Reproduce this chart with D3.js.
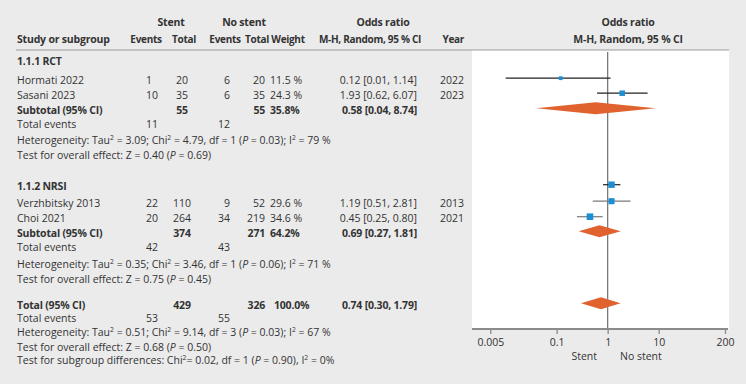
<!DOCTYPE html>
<html>
<head>
<meta charset="utf-8">
<script src="https://cdn.jsdelivr.net/npm/d3@7"></script>
<style>
  body { margin: 0; background: #ebebeb; }
  svg { display: block; font-family: "Open Sans", sans-serif; fill: #333; }
  .b { font-weight: bold; letter-spacing: -0.2px; }
  .h { font-size: 10px; letter-spacing: -0.3px; }
</style>
</head>
<body>
<div id="chart"></div>
<script>
'use strict'

// study rows
const studies = ['Hormati 2022', 'Sasani 2023', 'Verzhbitsky 2013', 'Choi 2021'];
const studyGroup = [0, 0, 1, 1];
const stentEvents = [1, 10, 22, 20];
const stentTotal = [20, 35, 110, 264];
const noStentEvents = [6, 6, 9, 34];
const noStentTotal = [20, 35, 52, 219];
const weights = [11.5, 24.3, 29.6, 34.6];
const oddsRatio = [0.12, 1.93, 1.19, 0.45];
const ciLow = [0.01, 0.62, 0.51, 0.25];
const ciHigh = [1.14, 6.07, 2.81, 0.80];
const years = [2022, 2023, 2013, 2021];

// subgroups
const subgroups = ['1.1.1 RCT', '1.1.2 NRSI'];
const subStentTotal = [55, 374];
const subNoStentTotal = [55, 271];
const subWeight = [35.8, 64.2];
const subOR = [0.58, 0.69];
const subLow = [0.04, 0.27];
const subHigh = [8.74, 1.81];
const subStentEvents = [11, 42];
const subNoStentEvents = [12, 43];
const subHet = [
  {tau: '3.09', chi: '4.79', df: 1, p: '0.03', i2: '79'},
  {tau: '0.35', chi: '3.46', df: 1, p: '0.06', i2: '71'}
];
const subZ = [{z: '0.40', p: '0.69'}, {z: '0.75', p: '0.45'}];

// stray square drawn on the NRSI header row in the original figure
const strayOR = [1.19];
const strayLow = [0.81];
const strayHigh = [1.78];
const strayWeight = [33];

// overall
const totalStent = 429, totalNoStent = 326, totalWeight = 100.0;
const totalOR = 0.74, totalLow = 0.30, totalHigh = 1.79;
const totalStentEvents = 53, totalNoStentEvents = 55;
const totalHet = {tau: '0.51', chi: '9.14', df: 3, p: '0.03', i2: '67'};
const totalZ = {z: '0.68', p: '0.50'};
const subDiff = {chi: '0.02', df: 1, p: '0.90', i2: '0'};

const axisTicks = [0.005, 0.1, 1, 10, 200];

// layout: vertical centre of each text line
const rowY = {
  head1: 22, head2: 39.5,
  group: [61, 186],
  study: [80, 95, 203, 218.5],
  sub: [110, 233], subEv: [124.5, 247], subHet: [140, 264.5], subZ: [155, 279],
  total: 305, totEv: 318.5, totHet: 332.5, totZ: 347, diff: 360.5
};
const col = {name: 17, se: 146, st: 182, ne: 230, nt: 265, w: 270, ci: 417, yr: 464};

const width = 746, height = 384;
const svg = d3.select('#chart').append('svg')
  .attr('width', width).attr('height', height);

svg.append('rect').attr('width', width).attr('height', height).attr('fill', '#ebebeb');

const panel = {left: 472, right: 729, top: 50, bottom: 329};
svg.append('rect')
  .attr('x', panel.left).attr('y', panel.top)
  .attr('width', panel.right - panel.left).attr('height', panel.bottom - panel.top)
  .attr('fill', '#fff');

// header separator
svg.append('line')
  .attr('x1', 16).attr('x2', panel.right).attr('y1', panel.top).attr('y2', panel.top)
  .attr('stroke', '#9a9a9a').attr('stroke-width', 1.2);

const fs = 10.5;
const t = svg.append('g').attr('font-size', fs);

function txt(x, y, s, anchor, bold) {
  return t.append('text')
    .attr('x', x).attr('y', y).attr('dy', '0.35em')
    .attr('text-anchor', anchor || 'start')
    .attr('class', bold ? 'b' : null)
    .text(s);
}
function head(x, s, anchor) {
  return txt(x, rowY.head2, s, anchor, true).attr('class', 'b h');
}

// rich line with superscripts and italic P
function rich(x, y, parts) {
  const el = t.append('text').attr('x', x).attr('y', y).attr('dy', '0.35em');
  parts.forEach(p => {
    const sp = el.append('tspan').text(p[0]);
    if (p[1] === 'sup') sp.attr('font-size', fs * 0.65).attr('dy', -4);
    if (p[1] === 'after') sp.attr('dy', 4);
    if (p[1] === 'i') sp.attr('font-style', 'italic');
  });
  return el;
}

function hetLine(y, h) {
  rich(col.name, y, [
    ['Heterogeneity: Tau'], ['2', 'sup'], [' = ' + h.tau + '; Chi', 'after'], ['2', 'sup'],
    [' = ' + h.chi + ', df = ' + h.df + ' (', 'after'], ['P', 'i'], [' = ' + h.p + '); I'],
    ['2', 'sup'], [' = ' + h.i2 + ' %', 'after']
  ]);
}
function zLine(y, z) {
  rich(col.name, y, [['Test for overall effect: Z = ' + z.z + ' ('], ['P', 'i'], [' = ' + z.p + ')']]);
}

// headers
txt(171, rowY.head1, 'Stent', 'middle', true);
txt(244, rowY.head1, 'No stent', 'middle', true);
txt(383, rowY.head1, 'Odds ratio', 'middle', true);
txt(628, rowY.head1, 'Odds ratio', 'middle', true);
txt(col.name, rowY.head2, 'Study or subgroup', 'start', true);
head(146, 'Events', 'middle');
head(184, 'Total', 'middle');
head(225, 'Events', 'middle');
head(257, 'Total', 'middle');
head(288, 'Weight', 'middle');
head(370, 'M-H, Random, 95 % CI', 'middle');
head(464, 'Year', 'end');
txt(628, rowY.head2, 'M-H, Random, 95 % CI', 'middle', true);

const f2 = d3.format('.2f');
const pct = w => d3.format('.1f')(w) + '%';
const pctS = w => d3.format('.1f')(w) + ' %';

subgroups.forEach((g, gi) => txt(col.name, rowY.group[gi], g, 'start', true));

studies.forEach((s, i) => {
  const y = rowY.study[i];
  txt(col.name, y, s);
  txt(col.se, y, stentEvents[i], 'start');
  txt(col.st, y, stentTotal[i], 'middle');
  txt(col.ne, y, noStentEvents[i], 'end');
  txt(col.nt, y, noStentTotal[i], 'end');
  txt(col.w, y, pctS(weights[i]));
  txt(col.ci, y, f2(oddsRatio[i]) + ' [' + f2(ciLow[i]) + ', ' + f2(ciHigh[i]) + ']', 'end');
  txt(col.yr, y, years[i], 'end');
});

subgroups.forEach((g, gi) => {
  txt(col.name, rowY.sub[gi], 'Subtotal (95% CI)', 'start', true);
  txt(col.st, rowY.sub[gi], subStentTotal[gi], 'middle', true);
  txt(col.nt, rowY.sub[gi], subNoStentTotal[gi], 'end', true);
  txt(col.w, rowY.sub[gi], pct(subWeight[gi]), 'start', true);
  txt(col.ci, rowY.sub[gi], f2(subOR[gi]) + ' [' + f2(subLow[gi]) + ', ' + f2(subHigh[gi]) + ']', 'end', true);
  txt(col.name, rowY.subEv[gi], 'Total events');
  txt(col.se, rowY.subEv[gi], subStentEvents[gi]);
  txt(col.ne, rowY.subEv[gi], subNoStentEvents[gi], 'end');
  hetLine(rowY.subHet[gi], subHet[gi]);
  zLine(rowY.subZ[gi], subZ[gi]);
});

txt(col.name, rowY.total, 'Total (95% CI)', 'start', true);
txt(col.st, rowY.total, totalStent, 'middle', true);
txt(col.nt, rowY.total, totalNoStent, 'end', true);
txt(274, rowY.total, pct(totalWeight), 'start', true);
txt(col.ci, rowY.total, f2(totalOR) + ' [' + f2(totalLow) + ', ' + f2(totalHigh) + ']', 'end', true);
txt(col.name, rowY.totEv, 'Total events');
txt(col.se, rowY.totEv, totalStentEvents);
txt(col.ne, rowY.totEv, totalNoStentEvents, 'end');
hetLine(rowY.totHet, totalHet);
zLine(rowY.totZ, totalZ);
rich(col.name, rowY.diff, [
  ['Test for subgroup differences: Chi'], ['2', 'sup'], ['= ' + subDiff.chi + ', df = ' + subDiff.df + ' (', 'after'],
  ['P', 'i'], [' = ' + subDiff.p + '), I'], ['2', 'sup'], [' = ' + subDiff.i2 + '%', 'after']
]);

// forest plot
const x = d3.scaleLog().domain([0.005, 200]).range([490.3, 725]);
const size = d3.scaleSqrt().domain([0, 35]).range([0, 6.6]);
const off = -1.8;
const plot = svg.append('g');

// reference line at OR = 1
plot.append('line')
  .attr('x1', x(1)).attr('x2', x(1)).attr('y1', panel.top + 2).attr('y2', panel.bottom)
  .attr('stroke', '#7a7a7a').attr('stroke-width', 1.3);

function diamond(or, lo, hi, y) {
  const h = 6;
  plot.append('path')
    .attr('d', `M${x(lo)},${y}L${x(or)},${y - h}L${x(hi)},${y}L${x(or)},${y + h}Z`)
    .attr('fill', '#e0622f');
}

function study(or, lo, hi, w, y, stroke) {
  plot.append('line')
    .attr('x1', x(lo)).attr('x2', x(hi)).attr('y1', y).attr('y2', y)
    .attr('stroke', stroke).attr('stroke-width', 1.2);
  const s = size(w);
  plot.append('rect')
    .attr('x', x(or) - s / 2).attr('y', y - s / 2).attr('width', s).attr('height', s)
    .attr('fill', '#1b8fd2');
}

studies.forEach((s, i) => {
  study(oddsRatio[i], ciLow[i], ciHigh[i], weights[i], rowY.study[i] + off,
    studyGroup[i] === 0 ? '#222' : '#7a7a7a');
});
strayOR.forEach((o, i) => study(o, strayLow[i], strayHigh[i], strayWeight[i], rowY.group[1] + off + 0.5, '#222'));
subgroups.forEach((g, gi) => diamond(subOR[gi], subLow[gi], subHigh[gi], rowY.sub[gi] + off));
diamond(totalOR, totalLow, totalHigh, rowY.total + off);

// axis
const axis = d3.axisBottom(x).tickValues(axisTicks).tickFormat(d => String(d)).tickSize(5).tickSizeOuter(0);
const ag = svg.append('g').attr('transform', `translate(0,${panel.bottom})`).call(axis);
ag.select('.domain').attr('stroke', '#8a8a8a').attr('stroke-width', 2)
  .attr('d', `M${panel.left},0H${panel.right - 1}`);
ag.selectAll('.tick line').attr('stroke', '#8a8a8a').attr('stroke-width', 1.3);
ag.selectAll('.tick text').attr('fill', '#333').attr('font-size', fs)
  .attr('font-family', '"Open Sans", sans-serif').attr('dy', '0.9em');

txt(597, 356.5, 'Stent', 'end');
txt(620, 356.5, 'No stent', 'start');
</script>
</body>
</html>
